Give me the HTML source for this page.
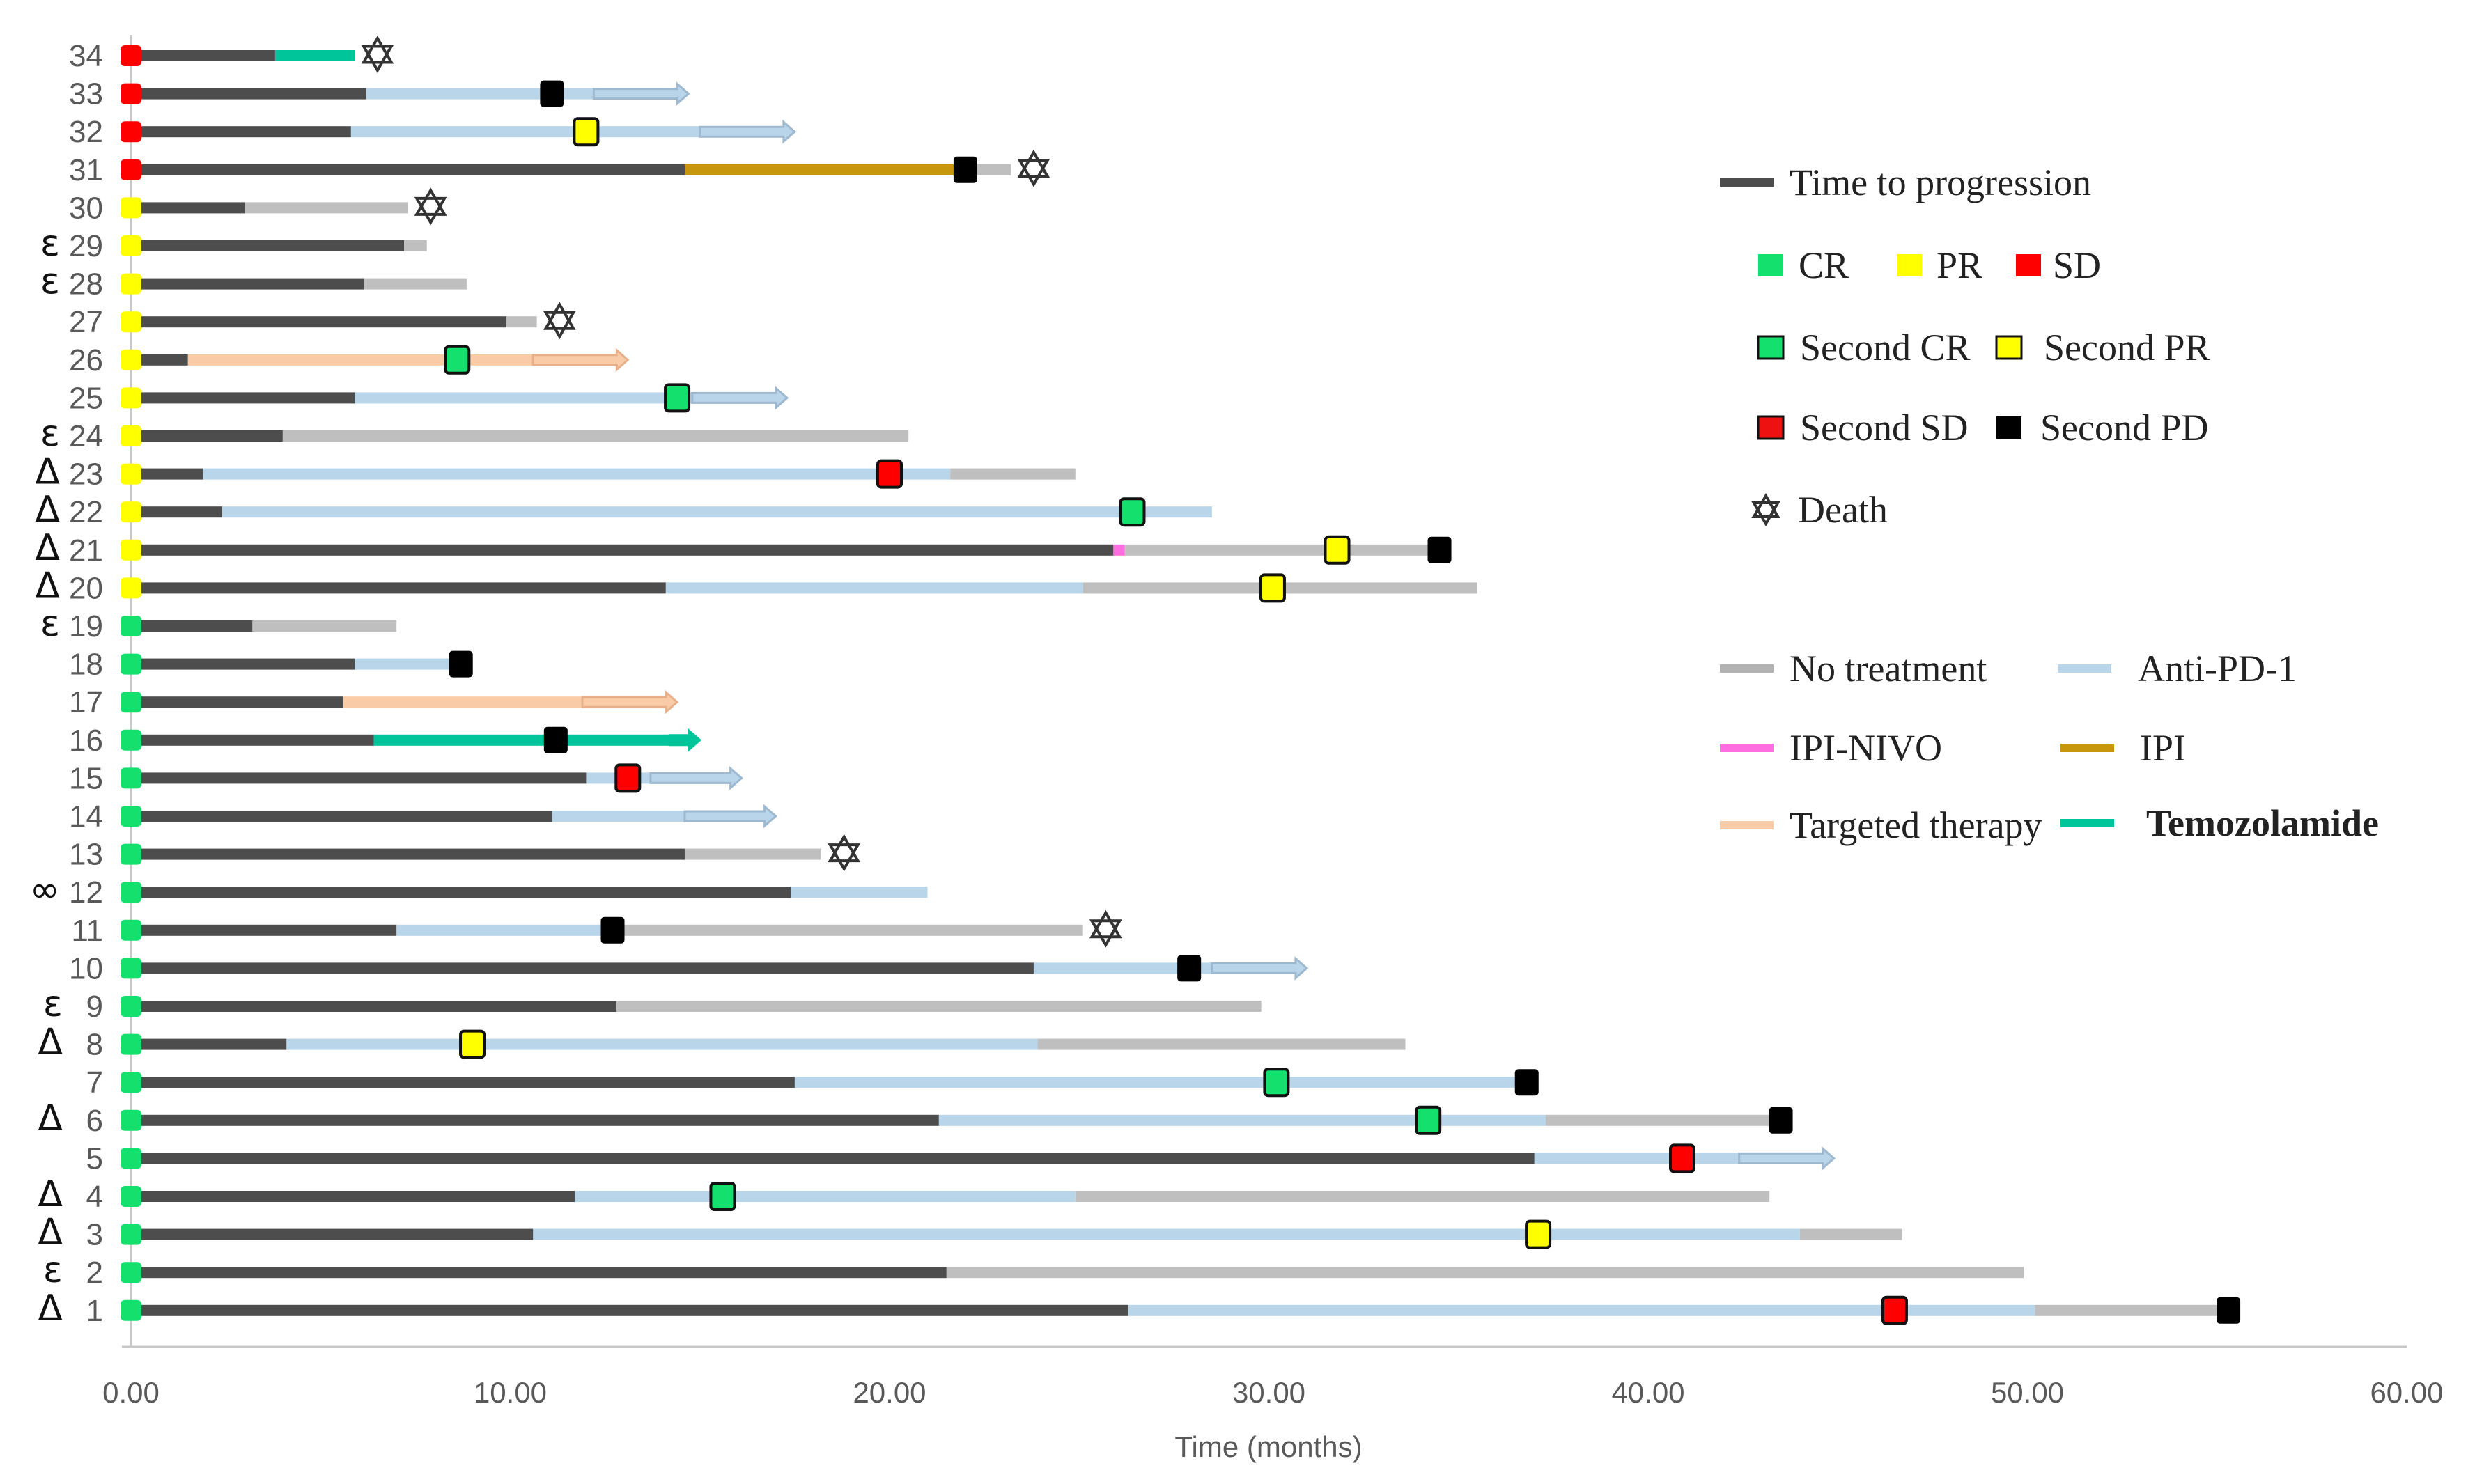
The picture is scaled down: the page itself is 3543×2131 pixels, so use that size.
<!DOCTYPE html>
<html><head><meta charset="utf-8"><style>
html,body{margin:0;padding:0;background:#fff;}
svg{display:block;}
.rl{font-family:"Liberation Sans Narrow","Liberation Sans",sans-serif;font-size:44px;fill:#595959;}
.an{font-family:"DejaVu Sans",sans-serif;font-size:52px;fill:#111;}
.tk{font-family:"Liberation Sans Narrow","Liberation Sans",sans-serif;font-size:42px;fill:#595959;}
.lg{font-family:"Liberation Serif",serif;font-size:54px;fill:#222;}
</style></head><body>
<svg id="chart" width="3543" height="2131" viewBox="0 0 3543 2131" xmlns="http://www.w3.org/2000/svg">
<g id="plot"></g>
<g id="legend"></g>
</svg>
<script>
// ---- data ----
const patients = [34,33,32,31,30,29,28,27,26,25,24,23,22,21,20,19,18,17,16,15,14,13,12,11,10,9,8,7,6,5,4,3,2,1];
const initialResponse = ['SD','SD','SD','SD','PR','PR','PR','PR','PR','PR','PR','PR','PR','PR','PR','CR','CR','CR','CR','CR','CR','CR','CR','CR','CR','CR','CR','CR','CR','CR','CR','CR','CR','CR'];
const annotations = ['','','','','','ε','ε','','','','ε','Δ','Δ','Δ','Δ','ε','','','','','','','∞','','','ε','Δ','','Δ','','Δ','Δ','ε','Δ'];
const ttpEnd = [3.8,6.2,5.8,14.6,3.0,7.2,6.15,9.9,1.5,5.9,4.0,1.9,2.4,25.9,14.1,3.2,5.9,5.6,6.4,12.0,11.1,14.6,17.4,7.0,23.8,12.8,4.1,17.5,21.3,37.0,11.7,10.6,21.5,26.3];
// treatment segments after progression: [type, end month]
const segments = [
 [['temo',5.9]],
 [['pd1',14.7]],
 [['pd1',17.5]],
 [['ipi',22.0],['none',23.2]],
 [['none',7.3]],
 [['none',7.8]],
 [['none',8.85]],
 [['none',10.7]],
 [['tt',13.1]],
 [['pd1',17.3]],
 [['none',20.5]],
 [['pd1',21.6],['none',24.9]],
 [['pd1',28.5]],
 [['ipinivo',26.2],['none',34.5]],
 [['pd1',25.1],['none',35.5]],
 [['none',7.0]],
 [['pd1',8.6]],
 [['tt',14.4]],
 [['temo',15.0]],
 [['pd1',16.1]],
 [['pd1',17.0]],
 [['none',18.2]],
 [['pd1',21.0]],
 [['pd1',12.7],['none',25.1]],
 [['pd1',31.0]],
 [['none',29.8]],
 [['pd1',23.9],['none',33.6]],
 [['pd1',36.8]],
 [['pd1',37.3],['none',43.5]],
 [['pd1',44.9]],
 [['pd1',24.9],['none',43.2]],
 [['pd1',44.0],['none',46.7]],
 [['none',49.9]],
 [['pd1',50.2],['none',55.3]]
];
// ongoing arrow start month (null = no arrow)
const arrowStart = [null,12.2,15.0,null,null,null,null,null,10.6,14.8,null,null,null,null,null,null,null,11.9,14.2,13.7,14.6,null,null,null,28.5,null,null,null,null,42.4,null,null,null,null];
// second events: [type, month]
const events = [
 [['death',6.5]],
 [['PD',11.1]],
 [['PR',12.0]],
 [['PD',22.0],['death',23.8]],
 [['death',7.9]],
 [],[],
 [['death',11.3]],
 [['CR',8.6]],
 [['CR',14.4]],
 [],
 [['SD',20.0]],
 [['CR',26.4]],
 [['PR',31.8],['PD',34.5]],
 [['PR',30.1]],
 [],
 [['PD',8.7]],
 [],
 [['PD',11.2]],
 [['SD',13.1]],
 [],
 [['death',18.8]],
 [],
 [['PD',12.7],['death',25.7]],
 [['PD',27.9]],
 [],
 [['PR',9.0]],
 [['CR',30.2],['PD',36.8]],
 [['CR',34.2],['PD',43.5]],
 [['SD',40.9]],
 [['CR',15.6]],
 [['PR',37.1]],
 [],
 [['SD',46.5],['PD',55.3]]
];
const xTicks = [0,10,20,30,40,50,60];
const xTickLabels = ['0.00','10.00','20.00','30.00','40.00','50.00','60.00'];

// ---- scales ----
const X0 = 188, PXM = 54.45, Y0 = 80, ROWH = 54.6;
const x = m => X0 + m*PXM;
const y = i => Y0 + i*ROWH;
const segColor = {ttp:'#4d4d4d',none:'#bfbfbf',pd1:'#b9d5ea',ipi:'#c8960c',ipinivo:'#ff6ee0',tt:'#f9cba6',temo:'#00c49a'};
const arrowStroke = {pd1:'#9db8cf',tt:'#e8b08a',temo:'#00c49a'};
const respColor = {CR:'#14e06e',PR:'#ffff00',SD:'#ff0000',PD:'#000000'};
const NS = 'http://www.w3.org/2000/svg';
const plot = document.getElementById('plot');
const legend = document.getElementById('legend');
function mk(tag, attrs, parent){const e=document.createElementNS(NS,tag);for(const k in attrs)e.setAttribute(k,attrs[k]);(parent||plot).appendChild(e);return e;}
function star(cx,cy,r,parent){
  const g=mk('g',{},parent);
  const t=(a)=>[0,1,2].map(k=>{const ang=a+k*2*Math.PI/3;return (cx+r*Math.sin(ang)).toFixed(1)+','+(cy-r*Math.cos(ang)).toFixed(1);}).join(' ');
  mk('polygon',{points:t(0),fill:'none',stroke:'#333','stroke-width':4},g);
  mk('polygon',{points:t(Math.PI),fill:'none',stroke:'#333','stroke-width':4},g);
  return g;
}

// axes
const yAxis = mk('line',{x1:X0,y1:50,x2:X0,y2:1934,stroke:'#c8c8c8','stroke-width':3});


const xAxis = mk('line',{x1:175,y1:1934,x2:x(60),y2:1934,stroke:'#c8c8c8','stroke-width':3});


xTicks.forEach((t,i)=>{
  const tl=mk('text',{x:x(t),y:2014,'text-anchor':'middle',class:'tk'});
  tl.textContent=xTickLabels[i];
  
  
});
const xt=mk('text',{x:1821,y:2092,'text-anchor':'middle',class:'tk'});
xt.textContent='Time (months)';



// rows
patients.forEach((p,i)=>{
  const cy=y(i);
  const g=mk('g',{});
  
  
  const lab=mk('text',{x:148,y:cy+15,'text-anchor':'end',class:'rl'},g);
  lab.textContent=p;
  
  
  if(annotations[i]){
    const a=mk('text',{x:p<10?90:86,y:cy+14,'text-anchor':'end',class:'an'},g);
    a.textContent=annotations[i];
    
    
  }
  const segs=segments[i];
  let start=ttpEnd[i];
  segs.forEach((s,k)=>{
    const type=s[0], end=s[1];
    const isLast=k===segs.length-1;
    const as=arrowStart[i];
    if(isLast && as!==null){
      const r=mk('rect',{x:x(start),y:cy-8,width:Math.max(0,x(as)-x(start)),height:16,fill:segColor[type]},g);
      
      
      const x1=x(as), x2=x(end), hl=16;
      const solid = type==='temo';
      const ar=mk('polygon',{points:`${x1},${cy-7} ${x2-hl},${cy-7} ${x2-hl},${cy-14} ${x2},${cy} ${x2-hl},${cy+14} ${x2-hl},${cy+7} ${x1},${cy+7}`,fill:segColor[type],stroke:solid?segColor[type]:arrowStroke[type],'stroke-width':3},g);
      
      
    } else {
      const r=mk('rect',{x:x(start),y:cy-8,width:Math.max(0,x(end)-x(start)),height:16,fill:segColor[type]},g);
      
      
    }
    start=end;
  });
  const tb=mk('rect',{x:X0,y:cy-8,width:x(ttpEnd[i])-X0,height:16,fill:segColor.ttp},g);
  
  
  const im=mk('rect',{x:X0-15,y:cy-15,width:30,height:30,rx:6,fill:respColor[initialResponse[i]]},g);
  
  
  events[i].forEach(ev=>{
    if(ev[0]==='death'){
      const s=star(x(ev[1]),cy-2,23,g);
      
      
    } else {
      const m=mk('rect',{x:x(ev[1])-17,y:cy-19,width:34,height:38,rx:5,fill:respColor[ev[0]],stroke:'#111','stroke-width':ev[0]==='PD'?0:4},g);
      
      
    }
  });
});

// legend
function lgLine(x1,y1,color,label,tx,bold){
  const g=mk('g',{},legend);
  
  
  mk('rect',{x:x1,y:y1-6,width:77,height:12,fill:color},g);
  const t=mk('text',{x:tx,y:y1+18,class:'lg'},g);
  if(bold){t.setAttribute('font-weight','bold');t.setAttribute('font-size','56');t.setAttribute('fill','#000');}
  t.textContent=label;
}
function lgSq(sx,sy,color,outline,label,tx){
  const g=mk('g',{},legend);
  
  
  mk('rect',{x:sx-18,y:sy-16,width:36,height:32,fill:color,stroke:outline?'#111':'none','stroke-width':3},g);
  const t=mk('text',{x:tx,y:sy+18,class:'lg'},g);
  t.textContent=label;
}
lgLine(2469,262,'#4d4d4d','Time to progression',2569);
lgSq(2542,381,'#14e06e',false,'CR',2582);
lgSq(2741,381,'#ffff00',false,'PR',2780);
lgSq(2912,381,'#ff0000',false,'SD',2947);
lgSq(2542,499,'#14e06e',true,'Second CR',2584);
lgSq(2884,499,'#ffff00',true,'Second PR',2934);
lgSq(2542,614,'#ee1111',true,'Second SD',2584);
lgSq(2884,614,'#000000',false,'Second PD',2929);
(function(){
  const g=mk('g',{},legend);
  
  
  star(2535,732,20,g);
  const t=mk('text',{x:2581,y:750,class:'lg'},g);
  t.textContent='Death';
})();
lgLine(2469,960,'#b3b3b3','No treatment',2569);
lgLine(2954,960,'#b9d5ea','Anti-PD-1',3069);
lgLine(2469,1074,'#ff6ee0','IPI-NIVO',2569);
lgLine(2958,1074,'#c8960c','IPI',3072);
lgLine(2469,1185,'#f9cba6','Targeted therapy',2569);
lgLine(2958,1182,'#00c49a','Temozolamide',3081,true);
</script>
</body></html>
